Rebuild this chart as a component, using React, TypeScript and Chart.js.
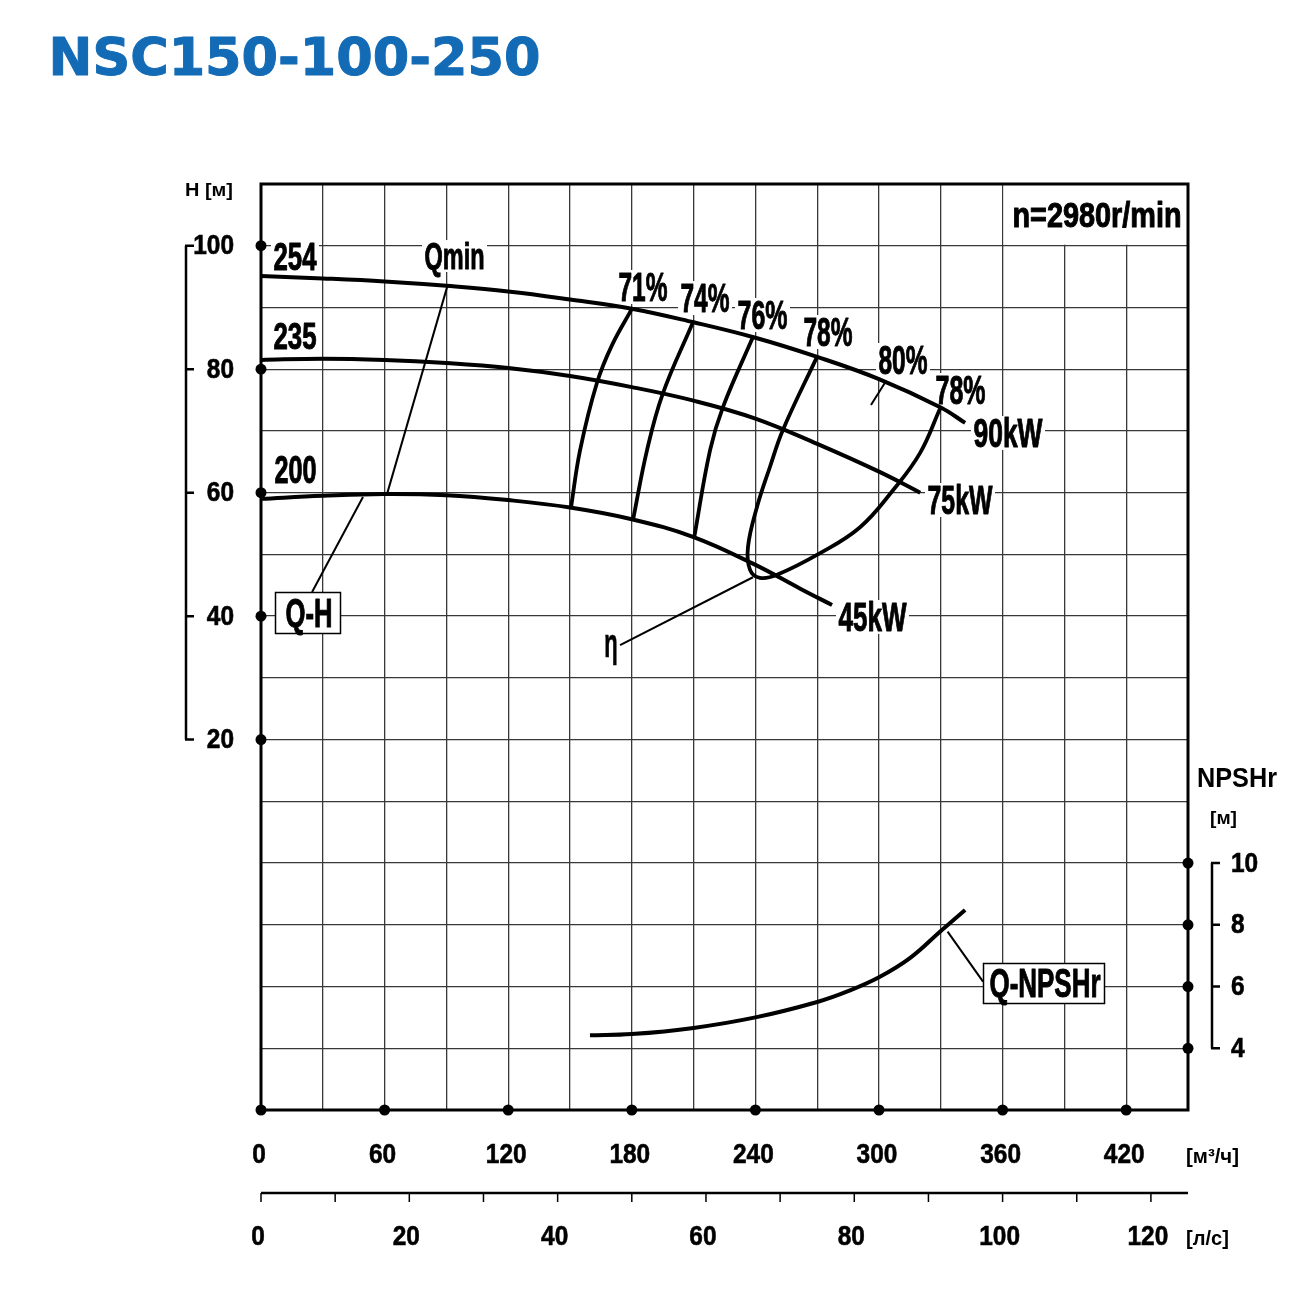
import React, { useEffect, useRef } from 'react';
import { Chart, registerables } from 'chart.js';

Chart.register(...registerables);

// ---------- text ----------
const TITLE = 'NSC150-100-250';
const SPEED_LABEL = 'n=2980r/min';

// ---------- axis ticks ----------
const H_TICKS = [100, 80, 60, 40, 20];
const Q_TICKS = [0, 60, 120, 180, 240, 300, 360, 420];
const LS_TICKS = [0, 20, 40, 60, 80, 100, 120];
const LS_MINOR = [0, 10, 20, 30, 40, 50, 60, 70, 80, 90, 100, 110, 120];
const NPSH_TICKS = [10, 8, 6, 4];

// ---------- Q-H curves (Q m3/h, H m) ----------
const Q_254 = [0, 30, 60, 90, 120, 150, 180, 210, 240, 270, 300, 330, 341.8];
const H_254 = [95.1, 94.7, 94.2, 93.5, 92.6, 91.3, 89.8, 87.6, 85.1, 82.0, 78.4, 73.8, 71.3];

const Q_235 = [0, 30, 60, 90, 120, 150, 180, 210, 240, 270, 300, 320];
const H_235 = [81.5, 81.7, 81.5, 81.0, 80.2, 78.9, 77.1, 74.9, 72.0, 67.9, 63.4, 60.0];

const Q_200 = [0, 30, 60, 90, 120, 150, 180, 210, 240, 262, 277.2];
const H_200 = [59.0, 59.5, 59.8, 59.6, 58.8, 57.6, 55.7, 52.8, 48.3, 44.4, 41.8];

// ---------- iso-efficiency curves ----------
const Q_EFF71 = [180.1, 170.4, 163.1, 154.9, 150.5];
const H_EFF71 = [89.8, 83.9, 77.8, 66.9, 57.6];
const Q_EFF74 = [209.7, 195.1, 187.4, 180.6];
const H_EFF74 = [87.6, 76.1, 66.9, 55.6];
const Q_EFF76 = [238.8, 224.3, 218.0, 210.2];
const H_EFF76 = [85.2, 73.9, 66.9, 52.6];
const Q_EFF78 = [269.9, 253.4, 247.1, 240.8, 236.4, 237.4, 242.2, 250.5, 271.4, 290.8, 306.8, 319.9, 329.6];
const H_EFF78 = [82.0, 70.2, 64.2, 57.7, 51.2, 47.5, 46.2, 46.7, 50.2, 54.4, 60.4, 66.4, 73.6];
const Q_EFF80 = [302.9, 296.1];
const H_EFF80 = [77.8, 74.2];

// ---------- NPSHr curve (m) ----------
const Q_NPSH = [159.7, 180, 210, 240, 270, 285, 300, 315, 330, 341.8];
const V_NPSH = [4.42, 4.46, 4.66, 5.0, 5.5, 5.85, 6.3, 6.92, 7.8, 8.48];

// ---------- leader lines (data coords) ----------
const Q_LEAD_QMIN = [90.5, 61.2];
const H_LEAD_QMIN = [93.5, 59.8];
const Q_LEAD_QH = [49.5, 24.8];
const H_LEAD_QH = [59.3, 43.9];
const Q_LEAD_ETA = [174.3, 238.8];
const H_LEAD_ETA = [35.3, 46.3];
const Q_LEAD_NPSH = [333.3, 350.5];
const V_LEAD_NPSH = [7.78, 6.16];

const pts = (xs: number[], ys: number[]) => xs.map((x, i) => ({ x, y: ys[i] }));

const NARROW = '"Liberation Sans Narrow", "Liberation Sans", Arial, sans-serif';
const WIDE = '"Liberation Sans", Arial, sans-serif';

function fitText(ctx: CanvasRenderingContext2D, str: string, left: number, right: number, baseline: number, size: number, family = NARROW, weight = 'bold', stroke = 0) {
  ctx.save();
  ctx.font = `${weight} ${size}px ${family}`;
  ctx.textAlign = 'left';
  ctx.textBaseline = 'alphabetic';
  const w = ctx.measureText(str).width;
  const sx = (right - left - stroke) / w;
  ctx.translate(left + stroke / 2, baseline);
  ctx.scale(sx, 1);
  ctx.fillText(str, 0, 0);
  if (stroke > 0) {
    ctx.lineWidth = stroke;
    ctx.lineJoin = 'round';
    ctx.strokeStyle = ctx.fillStyle as string;
    ctx.strokeText(str, 0, 0);
  }
  ctx.restore();
}

function tickText(ctx: CanvasRenderingContext2D, str: string, x: number, y: number, size: number, align: 'left' | 'right' | 'center', digitW: number) {
  ctx.save();
  ctx.font = `bold ${size}px ${NARROW}`;
  const w0 = ctx.measureText('0').width;
  const sx = digitW / w0;
  const w = ctx.measureText(str).width * sx;
  let left = x;
  if (align === 'right') left = x - w;
  if (align === 'center') left = x - w / 2;
  ctx.textAlign = 'left';
  ctx.textBaseline = 'middle';
  ctx.translate(left, y);
  ctx.scale(sx, 1);
  ctx.fillText(str, 0, 0);
  ctx.lineWidth = 0.6;
  ctx.strokeStyle = '#000';
  ctx.strokeText(str, 0, 0);
  ctx.restore();
}

type Lbl = { t: string; l: number; r: number; top: number; base: number };

const PLOT_LABELS: Lbl[] = [
  { t: '254', l: 273, r: 317, top: 242, base: 270 },
  { t: '235', l: 273, r: 317, top: 322, base: 349 },
  { t: '200', l: 274, r: 317, top: 455, base: 483 },
  { t: 'Qmin', l: 424, r: 485, top: 242, base: 269 },
  { t: '71%', l: 618, r: 668, top: 272, base: 301 },
  { t: '74%', l: 680, r: 730, top: 283, base: 312 },
  { t: '76%', l: 737, r: 788, top: 300, base: 329 },
  { t: '78%', l: 803, r: 853, top: 317, base: 346 },
  { t: '80%', l: 878, r: 928, top: 345, base: 374 },
  { t: '78%', l: 935, r: 986, top: 375, base: 404 },
  { t: '90kW', l: 973, r: 1043, top: 418, base: 447 },
  { t: '75kW', l: 927, r: 993, top: 485, base: 514 },
  { t: '45kW', l: 838, r: 907, top: 602, base: 631 },
];

const overlay = {
  id: 'overlay',
  beforeDatasetsDraw(chart: any) {
    const { ctx, chartArea: a, scales } = chart;
    const x = scales.x, y = scales.y;
    ctx.save();
    ctx.fillStyle = '#ffffff';
    // speed box
    const bx = x.getPixelForValue(360) + 1;
    const by = y.getPixelForValue(100) - 1;
    ctx.fillRect(bx, a.top, a.right - bx, by - a.top);
    // label backgrounds
    PLOT_LABELS.forEach((L) => ctx.fillRect(L.l - 2, L.top - 2, L.r - L.l + 4, L.base - L.top + 5));
    ctx.fillRect(602, 634, 18, 36);
    // Q-H box
    ctx.fillRect(275, 592, 66, 42);
    // Q-NPSHr box
    ctx.fillRect(983, 963, 122, 41);
    ctx.strokeStyle = '#000';
    ctx.lineWidth = 1.5;
    ctx.strokeRect(275.5, 592.5, 65, 41);
    ctx.strokeRect(983.5, 963.5, 121, 40);
    // frame
    ctx.lineWidth = 3;
    ctx.strokeRect(a.left, a.top, a.right - a.left, a.bottom - a.top);
    ctx.restore();
  },
  afterDatasetsDraw(chart: any) {
    const { ctx, chartArea: a, scales } = chart;
    const x = scales.x, y = scales.y, y2 = scales.y2;
    ctx.save();
    ctx.fillStyle = '#000';
    ctx.strokeStyle = '#000';

    // title
    ctx.fillStyle = '#136bb6';
    fitText(ctx, TITLE, 48, 541, 75, 51, '"DejaVu Sans", sans-serif', 'bold', 1);
    ctx.fillStyle = '#000';

    // plot labels
    PLOT_LABELS.forEach((L) => {
      const size = (L.base - L.top) / 0.72;
      fitText(ctx, L.t, L.l, L.r, L.base, size, NARROW, 'bold', 1);
    });
    fitText(ctx, 'η', 604, 618, 657, 40, WIDE, 'bold', 0.6);
    fitText(ctx, 'Q-H', 285, 333, 627, 40, NARROW, 'bold', 1);
    fitText(ctx, 'Q-NPSHr', 989, 1101, 997, 41, NARROW, 'bold', 1);
    fitText(ctx, SPEED_LABEL, 1012, 1182, 227, 35, NARROW, 'bold', 1);

    // left H axis labels & bracket
    fitText(ctx, 'H [м]', 185, 233, 196, 19, WIDE, 'bold');
    H_TICKS.forEach((h) => tickText(ctx, String(h), 234, y.getPixelForValue(h) + 1, 27, 'right', 13.6));
    ctx.lineWidth = 2.5;
    ctx.beginPath();
    ctx.moveTo(186, y.getPixelForValue(H_TICKS[0]));
    ctx.lineTo(186, y.getPixelForValue(H_TICKS[H_TICKS.length - 1]));
    H_TICKS.forEach((h) => {
      const py = y.getPixelForValue(h);
      ctx.moveTo(185, py);
      ctx.lineTo(194, py);
    });
    ctx.stroke();

    // right NPSH axis
    fitText(ctx, 'NPSHr', 1197, 1277, 787, 28, WIDE, 'bold');
    fitText(ctx, '[м]', 1210, 1237, 824, 19, WIDE, 'bold');
    NPSH_TICKS.forEach((v) => tickText(ctx, String(v), 1231, y2.getPixelForValue(v) + 1, 27, 'left', 13.6));
    ctx.beginPath();
    ctx.moveTo(1212, y2.getPixelForValue(NPSH_TICKS[0]));
    ctx.lineTo(1212, y2.getPixelForValue(NPSH_TICKS[NPSH_TICKS.length - 1]));
    NPSH_TICKS.forEach((v) => {
      const py = y2.getPixelForValue(v);
      ctx.moveTo(1211, py);
      ctx.lineTo(1220, py);
    });
    ctx.stroke();

    // bottom m3/h labels
    Q_TICKS.forEach((q) => tickText(ctx, String(q), x.getPixelForValue(q) - 2, 1155, 28, 'center', 13.6));
    fitText(ctx, '[м³/ч]', 1186, 1239, 1163, 20, WIDE, 'bold');

    // l/s axis
    const lsY = 1193;
    ctx.lineWidth = 2.5;
    ctx.beginPath();
    ctx.moveTo(a.left, lsY);
    ctx.lineTo(a.right, lsY);
    ctx.stroke();
    ctx.lineWidth = 1.5;
    ctx.beginPath();
    LS_MINOR.forEach((v) => {
      const px = x.getPixelForValue(v * 3.6);
      ctx.moveTo(px, lsY);
      ctx.lineTo(px, lsY + 9);
    });
    ctx.stroke();
    LS_TICKS.forEach((v) => tickText(ctx, String(v), x.getPixelForValue(v * 3.6) - 3, 1237, 28, 'center', 13.6));
    fitText(ctx, '[л/с]', 1186, 1229, 1245, 20, WIDE, 'bold');

    ctx.restore();
  },
};

const curve = (data: any[], w = 4, extra: any = {}) => ({
  type: 'line',
  data,
  showLine: true,
  borderColor: '#000',
  backgroundColor: '#000',
  borderWidth: w,
  pointRadius: 0,
  pointHoverRadius: 0,
  fill: false,
  ...extra,
});

export default function App() {
  const ref = useRef<HTMLCanvasElement | null>(null);
  useEffect(() => {
    const canvas = ref.current;
    if (!canvas) return;
    const bez = { tension: 0.4 };
    const dots = (data: any[], axis = 'y') => ({
      type: 'scatter',
      data,
      yAxisID: axis,
      showLine: false,
      pointRadius: 5.5,
      pointHoverRadius: 5.5,
      pointBackgroundColor: '#000',
      pointBorderColor: '#000',
      pointBorderWidth: 0,
      clip: false,
    });
    const chart = new Chart(canvas, {
      type: 'scatter',
      data: {
        datasets: [
          curve(pts(Q_254, H_254), 4, bez),
          curve(pts(Q_235, H_235), 4, bez),
          curve(pts(Q_200, H_200), 4, bez),
          curve(pts(Q_EFF71, H_EFF71), 3.8, bez),
          curve(pts(Q_EFF74, H_EFF74), 3.8, bez),
          curve(pts(Q_EFF76, H_EFF76), 3.8, bez),
          curve(pts(Q_EFF78, H_EFF78), 3.8, bez),
          curve(pts(Q_EFF80, H_EFF80), 2),
          curve(pts(Q_NPSH, V_NPSH), 4, { ...bez, yAxisID: 'y2' }),
          curve(pts(Q_LEAD_QMIN, H_LEAD_QMIN), 2),
          curve(pts(Q_LEAD_QH, H_LEAD_QH), 2),
          curve(pts(Q_LEAD_ETA, H_LEAD_ETA), 2),
          curve(pts(Q_LEAD_NPSH, V_LEAD_NPSH), 2, { yAxisID: 'y2' }),
          dots(H_TICKS.map((h) => ({ x: 0, y: h }))),
          dots(Q_TICKS.map((q) => ({ x: q, y: -40 }))),
          dots(NPSH_TICKS.map((v) => ({ x: 450, y: v })), 'y2'),
        ] as any,
      },
      options: {
        animation: false,
        responsive: false,
        devicePixelRatio: 1,
        events: [],
        layout: { padding: { left: 261, right: 122, top: 184, bottom: 185 } },
        plugins: { legend: { display: false }, tooltip: { enabled: false }, title: { display: false } },
        scales: {
          x: {
            type: 'linear',
            min: 0,
            max: 450,
            ticks: { display: false, stepSize: 30 },
            grid: { color: '#383838', lineWidth: 1.3, drawTicks: false },
            border: { display: false },
          },
          y: {
            type: 'linear',
            min: -40,
            max: 110,
            ticks: { display: false, stepSize: 10 },
            grid: { color: '#383838', lineWidth: 1.3, drawTicks: false },
            border: { display: false },
          },
          y2: {
            type: 'linear',
            position: 'right',
            display: false,
            min: 2,
            max: 32,
          },
        },
      } as any,
      plugins: [overlay],
    });
    return () => chart.destroy();
  }, []);
  return (
    <canvas
      ref={ref}
      width={1310}
      height={1295}
      style={{ position: 'absolute', left: 0, top: 0, width: 1310, height: 1295, background: '#fff' }}
    />
  );
}
